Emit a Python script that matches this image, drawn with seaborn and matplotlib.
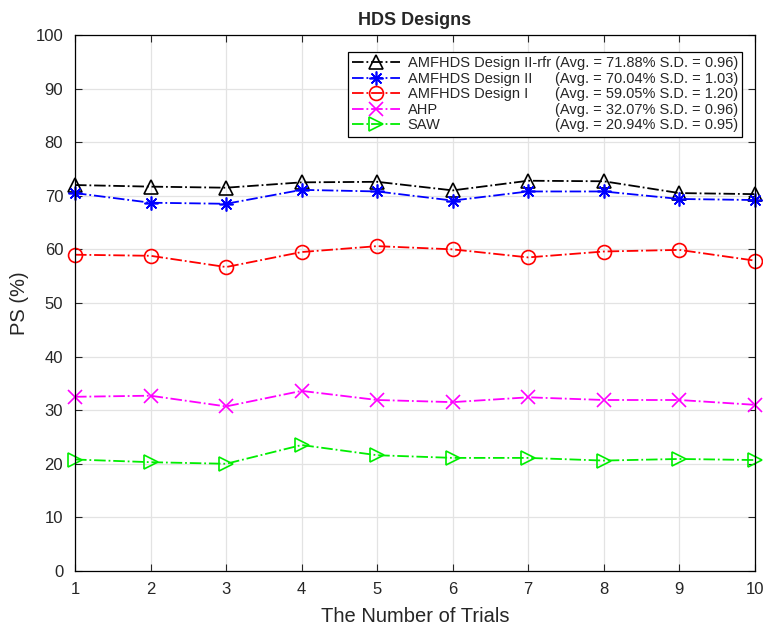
import matplotlib
matplotlib.use("Agg")
import matplotlib.pyplot as plt
import seaborn as sns
import pandas as pd

trials = [1, 2, 3, 4, 5, 6, 7, 8, 9, 10]
design_ii_rfr = [72.0, 71.7, 71.5, 72.5, 72.6, 71.0, 72.8, 72.7, 70.5, 70.3]
design_ii = [70.5, 68.7, 68.5, 71.1, 70.8, 69.1, 70.8, 70.8, 69.4, 69.2]
design_i = [59.0, 58.8, 56.7, 59.5, 60.6, 60.0, 58.5, 59.6, 59.9, 57.9]
ahp = [32.5, 32.7, 30.7, 33.6, 31.9, 31.5, 32.4, 31.9, 31.9, 31.0]
saw = [20.8, 20.3, 20.0, 23.5, 21.6, 21.1, 21.1, 20.6, 20.9, 20.7]

names = ["AMFHDS Design II-rfr", "AMFHDS Design II", "AMFHDS Design I", "AHP", "SAW"]
stats = ["(Avg. = 71.88% S.D. = 0.96)", "(Avg. = 70.04% S.D. = 1.03)",
         "(Avg. = 59.05% S.D. = 1.20)", "(Avg. = 32.07% S.D. = 0.96)",
         "(Avg. = 20.94% S.D. = 0.95)"]

sns.set_style("ticks")
plt.rcParams["font.family"] = ["Liberation Sans", "DejaVu Sans"]

fig = plt.figure(figsize=(7.63, 6.27), dpi=100)
ax = fig.add_axes([0.0983, 0.0893, 0.891, 0.855])

series = [design_ii_rfr, design_ii, design_i, ahp, saw]
colors = ["black", "blue", "red", "magenta", "#00ee00"]
markers = ["^", (8, 2, 0), "o", "x", ">"]
filled = [False, True, False, True, False]

for vals, name, col, mk, fl in zip(series, names, colors, markers, filled):
    df = pd.DataFrame({"trial": trials, "ps": vals})
    kw = dict(markerfacecolor="none") if not fl else {}
    sns.lineplot(data=df, x="trial", y="ps", ax=ax, color=col, marker=mk,
                 markersize=10, markeredgecolor=col, markeredgewidth=1.2,
                 linestyle="-.", linewidth=1.3, label=name, clip_on=False, **kw)

ax.set_xlim(1, 10)
ax.set_ylim(0, 100)
ax.set_xticks(trials)
ax.set_yticks(range(0, 101, 10))
ax.grid(True, color="#e3e3e3", linewidth=0.9)
ax.set_axisbelow(True)
ax.tick_params(direction="in", length=5, labelsize=12, top=True, right=True)
ax.tick_params(axis="x", pad=8)
ax.tick_params(axis="y", pad=8.5)
for s in ax.spines.values():
    s.set_visible(True)
    s.set_color("black")
    s.set_linewidth(0.9)
ax.set_title("HDS Designs", fontsize=13, fontweight="bold", pad=7)
ax.set_xlabel("The Number of Trials", fontsize=14.5, labelpad=7)
ax.set_ylabel("PS (%)", fontsize=14.5, labelpad=5)

# first entry carries its full text, which sets the legend width
labels = [names[0] + " " + stats[0]] + names[1:]
handles, _ = ax.get_legend_handles_labels()
leg = ax.legend(handles, labels, loc="upper right", fontsize=10.5, frameon=True,
                fancybox=False, edgecolor="black", framealpha=1,
                bbox_to_anchor=(0.9815, 0.968), borderaxespad=0,
                handlelength=3.3, labelspacing=0.1,
                borderpad=0.3, handletextpad=0.5)
leg.get_frame().set_linewidth(0.9)
fig.canvas.draw()
# right-aligned stats column for the other entries
texts = leg.get_texts()
right = texts[0].get_window_extent().transformed(ax.transAxes.inverted()).x1
for txt, st in zip(texts[1:], stats[1:]):
    tb = txt.get_window_extent().transformed(ax.transAxes.inverted())
    ax.text(right, (tb.y0 + tb.y1) / 2, st, transform=ax.transAxes,
            ha="right", va="center", fontsize=10.5, zorder=10)

fig.savefig("out.png", dpi=100)
